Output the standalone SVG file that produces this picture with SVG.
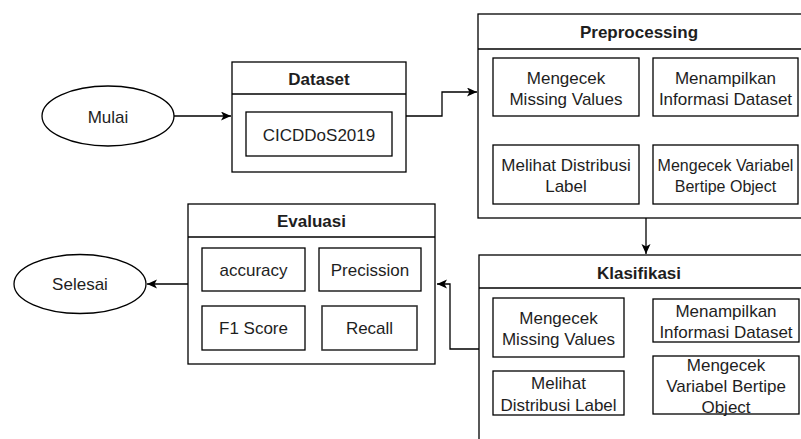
<svg xmlns="http://www.w3.org/2000/svg" width="801" height="439" viewBox="0 0 801 439">
<style>
  .box { fill: #ffffff; stroke: #000000; stroke-width: 1.3; }
  .gbox { fill: #ffffff; stroke: #333333; stroke-width: 1.6; }
  .ln { fill: none; stroke: #000000; stroke-width: 1.3; }
  .t { font-family: "Liberation Sans", Arial, sans-serif; font-size: 17px; fill: #1e1e1e; text-anchor: middle; }
  .s16 { font-size: 16px; }
  .h { font-family: "Liberation Sans", Arial, sans-serif; font-size: 17px; font-weight: bold; fill: #1e1e1e; text-anchor: middle; }
  .edge { fill: none; stroke: #000000; stroke-width: 1.3; }
</style>
<defs>
  <marker id="arr" markerUnits="userSpaceOnUse" markerWidth="12" markerHeight="10" refX="10" refY="4.5" orient="auto">
    <path d="M0,0 L10,4.5 L0,9 L2.5,4.5 Z" fill="#000000"/>
  </marker>
</defs>
<rect width="801" height="439" fill="#ffffff"/>

<g id="mulai">
  <ellipse class="box" cx="108" cy="116" rx="66" ry="30"/>
  <text class="t" x="108" y="122.5">Mulai</text>
</g>

<g id="dataset">
  <rect class="box" x="232" y="62" width="174" height="110"/>
  <line class="ln" x1="232" y1="94" x2="406" y2="94"/>
  <text class="h" x="319" y="84.5">Dataset</text>
  <rect class="box" x="246" y="112" width="146" height="44"/>
  <text class="t" x="319" y="141">CICDDoS2019</text>
</g>

<g id="preprocessing">
  <rect class="box" x="478" y="14" width="340" height="204"/>
  <line class="ln" x1="478" y1="49" x2="818" y2="49"/>
  <text class="h" x="639" y="38">Preprocessing</text>
  <rect class="box" x="493" y="58" width="146" height="58"/>
  <text class="t" x="566" y="83.5">Mengecek</text>
  <text class="t" x="566" y="104.5">Missing Values</text>
  <rect class="box" x="653" y="58" width="145" height="58"/>
  <text class="t" x="725.5" y="83.5">Menampilkan</text>
  <text class="t" x="725.5" y="104.5">Informasi Dataset</text>
  <rect class="box" x="493" y="145" width="146" height="59"/>
  <text class="t" x="566" y="171">Melihat Distribusi</text>
  <text class="t" x="566" y="192">Label</text>
  <rect class="box" x="653" y="145" width="145" height="59"/>
  <text class="t s16" x="725.5" y="171">Mengecek Variabel</text>
  <text class="t s16" x="725.5" y="192">Bertipe Object</text>
</g>

<g id="klasifikasi">
  <rect class="box" x="479" y="255" width="340" height="200"/>
  <line class="ln" x1="479" y1="288" x2="819" y2="288"/>
  <text class="h" x="639" y="278.5">Klasifikasi</text>
  <rect class="box" x="493" y="298" width="131" height="59"/>
  <text class="t" x="558.5" y="323.5">Mengecek</text>
  <text class="t" x="558.5" y="344.5">Missing Values</text>
  <rect class="box" x="653" y="299" width="146" height="43"/>
  <text class="t" x="726" y="316.5">Menampilkan</text>
  <text class="t" x="726" y="337.5">Informasi Dataset</text>
  <rect class="box" x="493" y="371" width="131" height="44"/>
  <text class="t" x="558.5" y="389">Melihat</text>
  <text class="t" x="558.5" y="410.5">Distribusi Label</text>
  <rect class="box" x="653" y="356" width="146" height="58"/>
  <text class="t" x="726" y="370.5">Mengecek</text>
  <text class="t" x="726" y="391.5">Variabel Bertipe</text>
  <text class="t" x="726" y="413">Object</text>
</g>

<g id="evaluasi">
  <rect class="box" x="188" y="204" width="247" height="160"/>
  <line class="ln" x1="188" y1="237" x2="435" y2="237"/>
  <text class="h" x="311.5" y="226.5">Evaluasi</text>
  <rect class="box" x="202" y="248" width="103" height="43"/>
  <text class="t" x="253.5" y="276">accuracy</text>
  <rect class="box" x="319" y="248" width="102" height="43"/>
  <text class="t" x="370" y="276">Precission</text>
  <rect class="box" x="202" y="306" width="103" height="44"/>
  <text class="t" x="253.5" y="334">F1 Score</text>
  <rect class="gbox" x="322" y="306" width="95" height="44"/>
  <text class="t" x="369.5" y="334">Recall</text>
</g>

<g id="selesai">
  <ellipse class="box" cx="80" cy="284" rx="66" ry="29.5"/>
  <text class="t" x="80" y="290">Selesai</text>
</g>

<g id="connectors">
  <path class="edge" d="M174,116 L231,116" marker-end="url(#arr)"/>
  <path class="edge" d="M406,116 L442,116 L442,92 L477,92" marker-end="url(#arr)"/>
  <path class="edge" d="M646,218 L646,254" marker-end="url(#arr)"/>
  <path class="edge" d="M479,349 L450,349 L450,284 L437,284" marker-end="url(#arr)"/>
  <path class="edge" d="M188,284 L147,284" marker-end="url(#arr)"/>
</g>
</svg>
